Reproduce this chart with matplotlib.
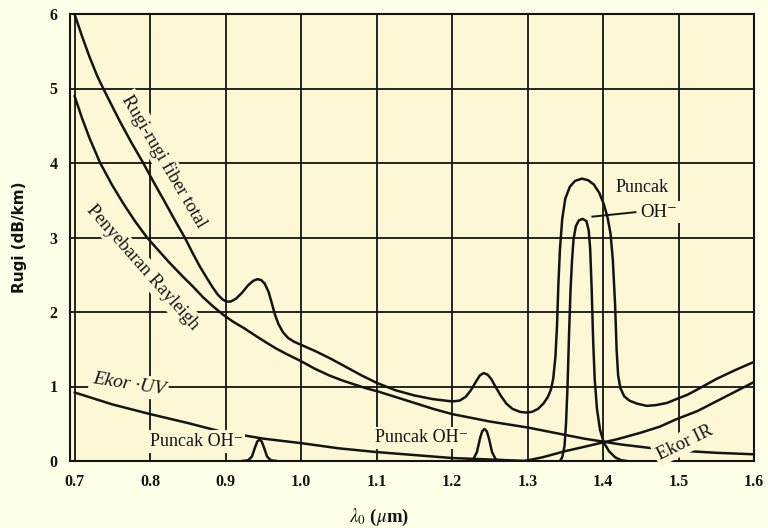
import matplotlib
matplotlib.use("Agg")
import matplotlib.pyplot as plt

plt.rcParams['mathtext.fontset'] = 'stix'

# ---- data ----
total_x = [0.700, 0.710, 0.720, 0.730, 0.738, 0.750, 0.760, 0.775, 0.791, 0.805, 0.820, 0.833,
           0.846, 0.856, 0.866, 0.875, 0.883, 0.890, 0.896, 0.901, 0.907, 0.914, 0.922, 0.930,
           0.937, 0.942, 0.947, 0.952, 0.957, 0.961, 0.965, 0.970, 0.976, 0.983, 0.991, 1.000,
           1.020, 1.040, 1.060, 1.080, 1.100, 1.125, 1.150, 1.175, 1.200, 1.210, 1.218, 1.225,
           1.232, 1.237, 1.242, 1.247, 1.252, 1.258, 1.265, 1.272, 1.280, 1.290, 1.298, 1.306,
           1.314, 1.321, 1.327, 1.331, 1.334, 1.337, 1.339, 1.341, 1.343, 1.346, 1.350, 1.356,
           1.363, 1.372, 1.380, 1.388, 1.395, 1.401, 1.406, 1.410, 1.413, 1.416, 1.418, 1.420,
           1.423, 1.428, 1.435, 1.445, 1.458, 1.470, 1.485, 1.497, 1.512, 1.525, 1.550, 1.575,
           1.600]
total_y = [6.00, 5.70, 5.42, 5.17, 5.00, 4.76, 4.56, 4.28, 4.00, 3.74, 3.47, 3.23,
           3.00, 2.80, 2.61, 2.46, 2.33, 2.23, 2.17, 2.14, 2.14, 2.18, 2.26, 2.36,
           2.42, 2.44, 2.43, 2.38, 2.27, 2.13, 1.98, 1.84, 1.73, 1.65, 1.60, 1.56,
           1.47, 1.37, 1.26, 1.15, 1.05, 0.95, 0.88, 0.83, 0.80, 0.81, 0.86, 0.95,
           1.07, 1.15, 1.18, 1.16, 1.10, 0.99, 0.87, 0.77, 0.70, 0.66, 0.65, 0.66,
           0.70, 0.77, 0.86, 0.96, 1.10, 1.40, 1.80, 2.40, 2.85, 3.25, 3.52, 3.68,
           3.76, 3.79, 3.77, 3.71, 3.60, 3.45, 3.27, 3.05, 2.70, 2.10, 1.50, 1.15,
           0.98, 0.87, 0.81, 0.77, 0.74, 0.75, 0.78, 0.83, 0.89, 0.96, 1.10, 1.22,
           1.33]

rayleigh_x = [0.700, 0.710, 0.720, 0.734, 0.750, 0.765, 0.780, 0.796, 0.810, 0.825, 0.843,
              0.857, 0.870, 0.883, 0.896, 0.910, 0.925, 0.940, 0.954, 0.967, 0.980, 1.000,
              1.018, 1.037, 1.055, 1.070, 1.085, 1.103, 1.125, 1.150, 1.175, 1.200, 1.225,
              1.250, 1.275, 1.300, 1.325, 1.350, 1.375, 1.400, 1.425, 1.450, 1.475, 1.500,
              1.550, 1.600]
rayleigh_y = [4.90, 4.60, 4.33, 4.00, 3.70, 3.45, 3.22, 3.00, 2.84, 2.67, 2.48,
              2.34, 2.20, 2.08, 1.97, 1.87, 1.78, 1.68, 1.59, 1.51, 1.44, 1.34,
              1.24, 1.15, 1.08, 1.03, 0.98, 0.93, 0.86, 0.78, 0.70, 0.63, 0.58,
              0.53, 0.49, 0.45, 0.40, 0.35, 0.30, 0.26, 0.22, 0.19, 0.16, 0.14,
              0.11, 0.09]

uv_x = [0.700, 0.750, 0.800, 0.850, 0.892, 0.950, 1.000, 1.050, 1.100, 1.150, 1.200, 1.250, 1.300]
uv_y = [0.92, 0.76, 0.63, 0.51, 0.40, 0.30, 0.24, 0.17, 0.12, 0.08, 0.04, 0.02, 0.00]

ir_x = [1.296, 1.320, 1.349, 1.375, 1.400, 1.418, 1.450, 1.475, 1.497, 1.525, 1.550, 1.575, 1.600]
ir_y = [0.00, 0.05, 0.13, 0.19, 0.25, 0.29, 0.38, 0.46, 0.56, 0.67, 0.80, 0.93, 1.06]

oh1_x = [0.922, 0.930, 0.935, 0.939, 0.942, 0.945, 0.948, 0.951, 0.955, 0.960, 0.968]
oh1_y = [0.00, 0.01, 0.06, 0.18, 0.26, 0.29, 0.26, 0.18, 0.06, 0.01, 0.00]

oh2_x = [1.220, 1.228, 1.233, 1.237, 1.240, 1.243, 1.246, 1.249, 1.253, 1.258, 1.266]
oh2_y = [0.00, 0.02, 0.12, 0.30, 0.40, 0.43, 0.40, 0.30, 0.12, 0.02, 0.00]

oh3_x = [1.343, 1.346, 1.349, 1.351, 1.353, 1.355, 1.357, 1.359, 1.361, 1.364, 1.368, 1.373,
         1.378, 1.381, 1.383, 1.385, 1.387, 1.389, 1.392, 1.396, 1.401, 1.408, 1.416, 1.424, 1.432]
oh3_y = [0.00, 0.05, 0.20, 0.50, 1.00, 1.70, 2.30, 2.70, 2.98, 3.15, 3.23, 3.25,
         3.22, 3.10, 2.85, 2.30, 1.60, 1.10, 0.70, 0.42, 0.25, 0.13, 0.05, 0.01, 0.00]

base_x = [0.700, 1.600]
base_y = [0.0, 0.0]

x_ticks = [0.7, 0.8, 0.9, 1.0, 1.1, 1.2, 1.3, 1.4, 1.5, 1.6]
x_ticklabels = ["0.7", "0.8", "0.9", "1.0", "1.1", "1.2", "1.3", "1.4", "1.5", "1.6"]
y_ticks = [0, 1, 2, 3, 4, 5, 6]

# ---- style ----
FIG_BG = '#fffee9'
AX_BG = '#fcf8d6'
INK = '#141414'
SERIF = ['Liberation Serif', 'DejaVu Serif']

fig = plt.figure(figsize=(7.68, 5.28), dpi=100, facecolor=FIG_BG)
ax = fig.add_axes([70/768, 1 - 461/528, (754-70)/768, (461-14)/528])
ax.set_facecolor(AX_BG)
ax.set_xlim(0.694, 1.600)
ax.set_ylim(0, 6)

lw = 1.8
for xs, ys in [(total_x, total_y), (rayleigh_x, rayleigh_y), (uv_x, uv_y), (ir_x, ir_y),
               (oh1_x, oh1_y), (oh2_x, oh2_y), (oh3_x, oh3_y), (base_x, base_y)]:
    ax.plot(xs, ys, color=INK, lw=lw, solid_joinstyle='round', solid_capstyle='round', zorder=3)

ax.set_xticks(x_ticks)
ax.set_xticklabels(x_ticklabels)
ax.set_yticks(y_ticks)
ax.grid(True, color=INK, lw=1.3, zorder=1)
ax.set_axisbelow(True)
ax.tick_params(length=0, pad=9, labelsize=11.5, colors=INK)
for lab in ax.get_xticklabels() + ax.get_yticklabels():
    lab.set_fontfamily(SERIF)
    lab.set_fontweight('bold')
for sp in ax.spines.values():
    sp.set_color(INK)
    sp.set_linewidth(1.5)

fig.text(20/768, 1 - 237/528, "Rugi (dB/km)", rotation=90, ha='center', va='center',
         fontsize=11, family=['DejaVu Sans'], fontweight='bold', color=INK)
fig.text(379/768, 1 - 517/528, r"$\lambda_0$ ($\mu$m)", ha='center', va='center',
         fontsize=13.5, family=SERIF, fontweight='bold', color=INK)

box = dict(boxstyle='square,pad=0.15', fc=AX_BG, ec='none')
tkw = dict(family=SERIF, color=INK, ha='center', va='center', zorder=5, bbox=box)
ax.text(0.819, 4.02, "Rugi-rugi fiber total", fontsize=13.5, rotation=-59.5, **tkw)
ax.text(0.790, 2.60, "Penyebaran Rayleigh", fontsize=13.5, rotation=-48.5, **tkw)
ax.text(0.772, 1.03, "Ekor ·UV", fontsize=14, rotation=-9, style='italic', **tkw)
ax.text(0.861, 0.26, "Puncak OH\u207b", fontsize=13, **tkw)
ax.text(1.160, 0.31, "Puncak OH\u207b", fontsize=13, **tkw)
ax.text(1.452, 3.67, "Puncak", fontsize=13, **tkw)
ax.text(1.474, 3.34, "OH\u207b", fontsize=13.5, **tkw)
ax.plot([1.443, 1.386], [3.34, 3.28], color=INK, lw=1.4, zorder=4)
ax.text(1.508, 0.25, "Ekor IR", fontsize=13.5, rotation=26, **tkw)

fig.savefig("out.png", dpi=100, facecolor=FIG_BG)
